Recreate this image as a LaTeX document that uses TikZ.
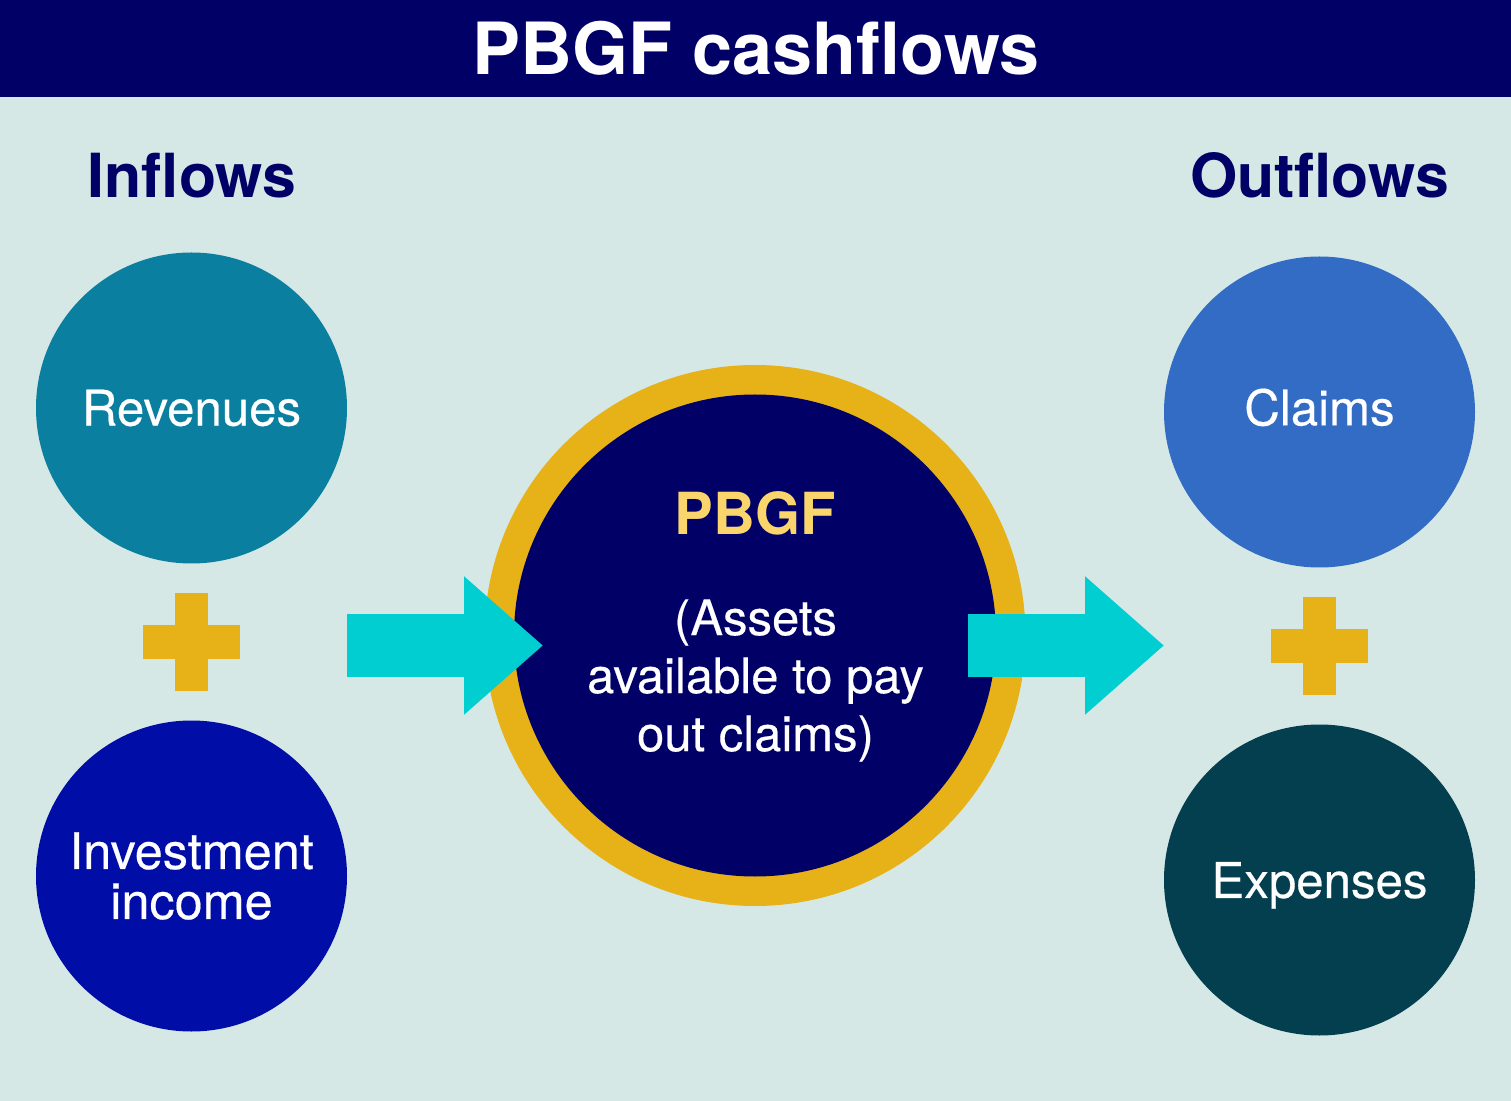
\documentclass[tikz,border=0pt]{standalone}
\usepackage{fontspec}
\setmainfont{TeX Gyre Heros}
\newfontfamily\mediumfont[FakeBold=0.35]{TeX Gyre Heros}
\usetikzlibrary{arrows.meta}
\definecolor{backcol}{RGB}{213, 232, 230}
\definecolor{navycol}{RGB}{0, 0, 102}
\definecolor{revcol}{RGB}{11, 127, 159}
\definecolor{invcol}{RGB}{0, 13, 166}
\definecolor{claimcol}{RGB}{50, 108, 196}
\definecolor{expcol}{RGB}{4, 63, 79}
\definecolor{goldcol}{RGB}{231, 177, 24}
\definecolor{flowcol}{RGB}{0, 206, 209}
\definecolor{namecol}{RGB}{249, 213, 108}
\tikzset{
  flowball/.style={circle, minimum size=155.5pt, inner sep=0pt, text=white, align=center, font=\mediumfont\fontsize{24.6}{25}\selectfont},
  heading/.style={text=navycol, inner sep=0pt, anchor=base, font=\bfseries\fontsize{30.4}{30}\selectfont},
  plusbar/.style={fill=goldcol, inner sep=0pt},
  flowarrow/.style={draw=flowcol, line width=31.5pt, -{Triangle[length=39.5pt,width=66.7pt,color=flowcol]}}
}

\begin{document}
\begin{tikzpicture}[x=0.5pt, y=-0.5pt]
\useasboundingbox (0,0) rectangle (1511,1101);
\fill[backcol] (0,0) rectangle (1511,1101);
\fill[navycol] (0,0) rectangle (1511,97);
\node (title) [anchor=base, inner sep=0pt, text=white, font=\bfseries\fontsize{36}{36}\selectfont] at (756,75) {PBGF cashflows};

\node (inflows) [heading] at (192,198) {Inflows};
\node (outflows) [heading] at (1319.5,198) {Outflows};

\node (revenues) [flowball, fill=revcol] at (191.5,408) {Revenues};
\node (income) [flowball, fill=invcol, font=\mediumfont\fontsize{25.2}{25}\selectfont] at (191.5,876) {Investment\\income};
\node (claims) [flowball, fill=claimcol, text depth=5pt] at (1319.5,412) {Claims};
\node (expenses) [flowball, fill=expcol, text depth=0pt] at (1319.5,880) {Expenses};

% plus signs between the circles
\foreach \name/\px/\py in {plusin/191.5/642, plusout/1319.5/646}
{
  \node (\name-a) [plusbar, minimum width=48.5pt, minimum height=16.5pt] at (\px,\py) {};
  \node (\name-b) [plusbar, minimum width=16.5pt, minimum height=48.5pt] at (\px,\py) {};
}

\node (ring) [circle, fill=goldcol, minimum size=270.5pt, inner sep=0pt] at (755,635.5) {};
\node (pbgf) [circle, fill=navycol, minimum size=241pt, inner sep=0pt] at (755,635.5) {};
\node (pbgfname) [anchor=base, inner sep=0pt, text=namecol, font=\bfseries\fontsize{29}{29}\selectfont] at (755,535) {PBGF};
\node (pbgftext) [anchor=north, inner sep=0pt, text=white, align=center, font=\mediumfont\fontsize{24.5}{29}\selectfont] at (755.5,599) {(Assets\\available to pay\\out claims)};

\coordinate (infrom) at (346.5,645.5);
\coordinate (into) at (543,645.5);
\coordinate (outfrom) at (968,645.5);
\coordinate (outto) at (1164,645.5);
\draw[flowarrow] (infrom) -- (into);
\draw[flowarrow] (outfrom) -- (outto);
\end{tikzpicture}
\end{document}
